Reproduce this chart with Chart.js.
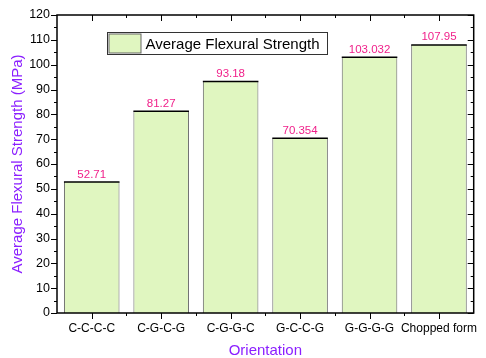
<!DOCTYPE html>
<html><head><meta charset="utf-8">
<script src="https://cdn.jsdelivr.net/npm/chart.js@4/dist/chart.umd.min.js"></script>
<style>html,body{margin:0;padding:0;background:#fff}#wrap{width:486px;height:358px}</style>
</head><body><div id="wrap"><canvas id="c" width="486" height="358"></canvas></div>
<script>
const categories = ["C-C-C-C","C-G-C-G","C-G-G-C","G-C-C-G","G-G-G-G","Chopped form"];
const strengthValues = [52.71, 81.27, 93.18, 70.354, 103.032, 107.95];
const valueLabels = ["52.71","81.27","93.18","70.354","103.032","107.95"];
const yTicks = [0,10,20,30,40,50,60,70,80,90,100,110,120];
const seriesName = "Average Flexural Strength";

const FONT = "'Liberation Sans', Arial, sans-serif";

const framePlugin = {
  id: 'frame',
  afterDraw(chart) {
    const ctx = chart.ctx, a = chart.chartArea, y = chart.scales.y, x = chart.scales.x;
    const meta = chart.getDatasetMeta(0);
    ctx.save();
    // black bar tops
    ctx.strokeStyle = '#000';
    ctx.lineWidth = 1.5;
    meta.data.forEach(bar => {
      ctx.beginPath();
      ctx.moveTo(bar.x - bar.width / 2, bar.y);
      ctx.lineTo(bar.x + bar.width / 2, bar.y);
      ctx.stroke();
    });
    ctx.strokeRect(a.left, a.top, a.right - a.left, a.bottom - a.top);
    ctx.lineWidth = 1;
    // y ticks
    for (let v = 0; v <= 120; v += 5) {
      const py = Math.round(y.getPixelForValue(v)) + 0.5;
      const major = v % 10 === 0;
      const len = major ? 6 : 3;
      ctx.beginPath();
      ctx.moveTo(a.left - len, py); ctx.lineTo(a.left, py);
      ctx.moveTo(a.right, py); ctx.lineTo(a.right - len, py);
      ctx.stroke();
    }
    // x ticks
    const n = categories.length;
    for (let i = 0; i < n; i++) {
      const px = Math.round(x.getPixelForValue(i)) + 0.5;
      ctx.beginPath();
      ctx.moveTo(px, a.bottom); ctx.lineTo(px, a.bottom + 6);
      ctx.moveTo(px, a.top); ctx.lineTo(px, a.top + 6);
      ctx.stroke();
    }
    const w = (a.right - a.left) / n;
    for (let i = 1; i < n; i++) {
      const px = Math.round(a.left + i * w) + 0.5;
      ctx.beginPath();
      ctx.moveTo(px, a.bottom); ctx.lineTo(px, a.bottom + 3);
      ctx.moveTo(px, a.top); ctx.lineTo(px, a.top + 3);
      ctx.stroke();
    }
    // value labels
    ctx.fillStyle = '#F0208A';
    ctx.font = '11.5px ' + FONT;
    ctx.textAlign = 'center';
    ctx.textBaseline = 'bottom';
    meta.data.forEach((bar, i) => {
      ctx.fillText(valueLabels[i], bar.x, bar.y - 2);
    });
    // legend
    const lx = 107.5, ly = 32.5, lw = 220, lh = 22;
    ctx.fillStyle = '#fff';
    ctx.fillRect(lx, ly, lw, lh);
    ctx.strokeStyle = '#333';
    ctx.strokeRect(lx, ly, lw, lh);
    ctx.fillStyle = '#E0F6C0';
    ctx.fillRect(lx + 1.5, ly + 1.5, 32, lh - 3);
    ctx.strokeStyle = '#666';
    ctx.strokeRect(lx + 1.5, ly + 1.5, 32, lh - 3);
    ctx.fillStyle = '#000';
    ctx.font = '15px ' + FONT;
    ctx.textAlign = 'left';
    ctx.textBaseline = 'middle';
    ctx.fillText(seriesName, lx + 38, ly + lh / 2 + 1);
    ctx.restore();
  }
};

new Chart(document.getElementById('c'), {
  type: 'bar',
  data: {
    labels: categories,
    datasets: [{
      label: seriesName,
      data: strengthValues,
      backgroundColor: '#E0F6C0',
      borderColor: '#666',
      borderWidth: {top: 0, left: 1, right: 1, bottom: 0},
      barPercentage: 0.8,
      categoryPercentage: 1.0
    }]
  },
  options: {
    responsive: false,
    animation: false,
    devicePixelRatio: 1,
    layout: {padding: {top: 15, right: 12, left: 0, bottom: 0}},
    plugins: {legend: {display: false}, tooltip: {enabled: false}},
    scales: {
      x: {
        grid: {display: false, drawTicks: false},
        border: {display: false},
        ticks: {color: '#000', font: {family: FONT, size: 12}, padding: 8, maxRotation: 0, autoSkip: false},
        title: {display: true, text: 'Orientation', color: '#8B1FFF', font: {family: FONT, size: 15}, padding: {top: 0, bottom: -2}},
        afterFit(s) { s.height = 45; }
      },
      y: {
        min: 0, max: 120,
        afterBuildTicks(s) { s.ticks = yTicks.map(v => ({value: v})); },
        grid: {display: false, drawTicks: false},
        border: {display: false},
        ticks: {color: '#000', font: {family: FONT, size: 12.5}, padding: 7},
        title: {display: true, text: 'Average Flexural Strength (MPa)', color: '#8B1FFF', font: {family: FONT, size: 15}, padding: {top: 9, bottom: 0}},
        afterFit(s) { s.width = 57; }
      }
    }
  },
  plugins: [framePlugin]
});
</script></body></html>
